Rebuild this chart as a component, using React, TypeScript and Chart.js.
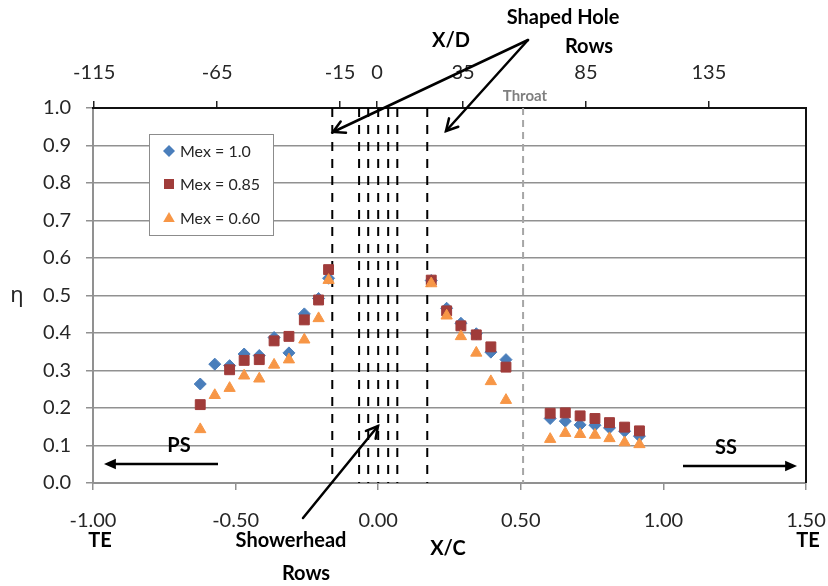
import React, { useEffect, useRef } from "react";
import { Chart, registerables } from "chart.js";

Chart.register(...registerables);

// Measurement stations along the airfoil surface (X/C), shared by all three series
const xcLocations = [
  -0.624, -0.573, -0.521, -0.47, -0.417, -0.365, -0.313, -0.259, -0.209, -0.174,
  0.186, 0.24, 0.29, 0.344, 0.395, 0.448,
  0.603, 0.656, 0.708, 0.76, 0.811, 0.864, 0.916,
];

// Film cooling effectiveness η per exit Mach number (null = no reading)
const etaMex100 = [
  0.264, 0.317, 0.313, 0.344, 0.34, 0.388, 0.347, 0.451, 0.492, 0.546,
  0.54, 0.466, 0.426, 0.398, 0.349, 0.329,
  0.172, 0.165, 0.155, 0.154, 0.147, 0.138, 0.125,
];
const etaMex085 = [
  0.209, null, 0.302, 0.327, 0.329, 0.379, 0.391, 0.435, 0.488, 0.569,
  0.541, 0.459, 0.419, 0.395, 0.363, 0.309,
  0.186, 0.187, 0.179, 0.172, 0.161, 0.149, 0.139,
];
const etaMex060 = [
  0.143, 0.234, 0.253, 0.286, 0.278, 0.315, 0.329, 0.382, 0.439, 0.541,
  0.532, 0.446, 0.391, 0.347, 0.271, 0.221,
  0.117, 0.133, 0.13, 0.128, 0.119, 0.108, 0.103,
];

const seriesLabels = ["Mex = 1.0", "Mex = 0.85", "Mex = 0.60"];

// Cooling hole row locations (X/C)
const showerheadRows = [-0.067, -0.035, 0, 0.035, 0.067];
const shapedHoleRows = [-0.161, 0.172];
const throatLocation = [0.508];

// Axis ticks
const xcTicks = [-1, -0.5, 0, 0.5, 1, 1.5];
const xdTicks = [-115, -65, -15, 0, 35, 85, 135];
const etaTicks = [0, 0.1, 0.2, 0.3, 0.4, 0.5, 0.6, 0.7, 0.8, 0.9, 1.0];

const BLUE = "#4a7ebb";
const RED = "#a03c3a";
const ORANGE = "#f79646";
const GRID = "#919191";
const TEXT = "#262626";

const toPoints = (ys: (number | null)[]) =>
  xcLocations
    .map((x, i) => ({ x, y: ys[i] }))
    .filter((p) => p.y !== null) as { x: number; y: number }[];

const verticalLine = (x: number) => [
  { x, y: 1 },
  { x, y: 0 },
];

function drawArrow(
  ctx: CanvasRenderingContext2D,
  x1: number,
  y1: number,
  x2: number,
  y2: number,
  solid: boolean,
  size: number
) {
  const ang = Math.atan2(y2 - y1, x2 - x1);
  const spread = solid ? 0.42 : 0.5;
  const ex = solid ? x2 - Math.cos(ang) * size * 0.8 : x2;
  const ey = solid ? y2 - Math.sin(ang) * size * 0.8 : y2;
  ctx.beginPath();
  ctx.moveTo(x1, y1);
  ctx.lineTo(ex, ey);
  ctx.stroke();
  const ax = x2 - size * Math.cos(ang - spread);
  const ay = y2 - size * Math.sin(ang - spread);
  const bx = x2 - size * Math.cos(ang + spread);
  const by = y2 - size * Math.sin(ang + spread);
  ctx.beginPath();
  ctx.moveTo(ax, ay);
  ctx.lineTo(x2, y2);
  ctx.lineTo(bx, by);
  if (solid) {
    ctx.closePath();
    ctx.fill();
  } else {
    ctx.stroke();
  }
}

function drawMarker(ctx: CanvasRenderingContext2D, kind: number, x: number, y: number) {
  ctx.beginPath();
  if (kind === 0) {
    ctx.fillStyle = BLUE;
    ctx.moveTo(x, y - 6);
    ctx.lineTo(x + 6, y);
    ctx.lineTo(x, y + 6);
    ctx.lineTo(x - 6, y);
  } else if (kind === 1) {
    ctx.fillStyle = RED;
    ctx.rect(x - 5, y - 5, 10, 10);
  } else {
    ctx.fillStyle = ORANGE;
    ctx.moveTo(x, y - 6);
    ctx.lineTo(x + 5.8, y + 4);
    ctx.lineTo(x - 5.8, y + 4);
  }
  ctx.closePath();
  ctx.fill();
}

const overlayPlugin = {
  id: "overlay",
  beforeDatasetsDraw(chart: Chart) {
    const { ctx, chartArea: a } = chart;
    ctx.save();
    ctx.strokeStyle = "#111";
    ctx.lineWidth = 2;
    ctx.beginPath();
    ctx.moveTo(a.left - 1, a.top);
    ctx.lineTo(a.right, a.top);
    ctx.lineTo(a.right, a.bottom);
    ctx.stroke();
    ctx.restore();
  },
  afterDraw(chart: Chart) {
    const { ctx } = chart;
    ctx.save();

    // legend
    ctx.fillStyle = "#fff";
    ctx.fillRect(149, 134, 124, 101);
    ctx.strokeStyle = "#8c8c8c";
    ctx.lineWidth = 1;
    ctx.strokeRect(149.5, 134.5, 124, 101);
    const rowsY = [151, 184, 218];
    ctx.font = "16px Lato";
    ctx.textBaseline = "middle";
    ctx.textAlign = "left";
    seriesLabels.forEach((label, i) => {
      drawMarker(ctx, i, 169, rowsY[i]);
      ctx.fillStyle = TEXT;
      ctx.fillText(label, 180, rowsY[i] + 1);
    });

    // labels
    ctx.fillStyle = "#000";
    ctx.textAlign = "center";
    ctx.font = "bold 20px Lato";
    ctx.fillText("Shaped Hole", 563, 18);
    ctx.fillText("Rows", 589, 47);
    ctx.fillText("X/D", 451, 41);
    ctx.fillText("X/C", 448, 549);
    ctx.fillText("Showerhead", 291, 541);
    ctx.fillText("Rows", 306, 574);
    ctx.fillText("TE", 100, 541);
    ctx.fillText("TE", 808, 541);
    ctx.fillText("PS", 179, 446);
    ctx.fillText("SS", 726, 448);

    ctx.fillStyle = "#7f7f7f";
    ctx.font = "bold 15px Lato";
    ctx.fillText("Throat", 525, 96);

    ctx.fillStyle = TEXT;
    ctx.font = "22px 'Noto Sans'";
    ctx.fillText("η", 17, 296);

    // arrows
    ctx.strokeStyle = "#000";
    ctx.fillStyle = "#000";
    ctx.lineWidth = 2.5;
    ctx.lineCap = "round";
    drawArrow(ctx, 528, 40, 333, 132, false, 13);
    drawArrow(ctx, 528, 40, 446, 131, false, 13);
    drawArrow(ctx, 303, 518, 378, 426, false, 13);
    ctx.lineCap = "butt";
    drawArrow(ctx, 218, 464, 104, 464, true, 13);
    drawArrow(ctx, 683, 466, 797, 466, true, 13);

    ctx.restore();
  },
};

export default function App() {
  const canvasRef = useRef<HTMLCanvasElement | null>(null);

  useEffect(() => {
    if (!canvasRef.current) return;
    const markerSet = (color: string) => ({
      backgroundColor: color,
      borderColor: color,
      borderWidth: 1,
      showLine: false,
    });
    const dashed = (x: number, color: string, dash: number[], width: number) => ({
      type: "line" as const,
      data: verticalLine(x),
      borderColor: color,
      borderWidth: width,
      borderDash: dash,
      pointRadius: 0,
      fill: false,
      order: 10,
    });

    const chart = new Chart(canvasRef.current, {
      type: "scatter",
      data: {
        datasets: [
          {
            label: seriesLabels[0],
            data: toPoints(etaMex100),
            pointStyle: "rectRot",
            pointRadius: 6,
            order: 3,
            ...markerSet(BLUE),
          },
          {
            label: seriesLabels[1],
            data: toPoints(etaMex085),
            pointStyle: "rect",
            pointRadius: 7,
            order: 2,
            ...markerSet(RED),
          },
          {
            label: seriesLabels[2],
            data: toPoints(etaMex060),
            pointStyle: "triangle",
            pointRadius: 6.5,
            order: 1,
            ...markerSet(ORANGE),
          },
          ...showerheadRows.map((x) => dashed(x, "#000", [9, 8], 2)),
          ...shapedHoleRows.map((x) => dashed(x, "#000", [9, 8], 2)),
          ...throatLocation.map((x) => dashed(x, "#a6a6a6", [7, 5], 2)),
        ] as any,
      },
      options: {
        animation: false,
        responsive: false,
        events: [],
        layout: { padding: { left: 0, right: 22, top: 0, bottom: 0 } },
        plugins: {
          legend: { display: false },
          tooltip: { enabled: false },
        },
        scales: {
          x: {
            type: "linear",
            position: "bottom",
            min: -1,
            max: 1.5,
            afterBuildTicks: (s: any) => {
              s.ticks = xcTicks.map((v) => ({ value: v }));
            },
            afterFit: (s: any) => {
              s.height = 103;
              s.paddingLeft = 0;
              s.paddingRight = 0;
            },
            ticks: {
              callback: (v: any) => Number(v).toFixed(2),
              font: { family: "Lato", size: 20 },
              color: TEXT,
              padding: 19,
              maxRotation: 0,
              autoSkip: false,
            },
            grid: {
              drawOnChartArea: false,
              drawTicks: true,
              tickLength: 7,
              color: GRID,
              lineWidth: 1.5,
            },
            border: { display: true, color: GRID, width: 2 },
          },
          x2: {
            type: "linear",
            position: "top",
            min: -115.5,
            max: 174.5,
            afterBuildTicks: (s: any) => {
              s.ticks = xdTicks.map((v) => ({ value: v }));
            },
            afterFit: (s: any) => {
              s.height = 108;
              s.paddingLeft = 0;
              s.paddingRight = 0;
            },
            ticks: {
              callback: (v: any) => String(v),
              font: { family: "Lato", size: 20 },
              color: TEXT,
              padding: 16,
              maxRotation: 0,
              autoSkip: false,
            },
            grid: {
              drawOnChartArea: false,
              drawTicks: true,
              tickLength: 7,
              color: "#222",
              lineWidth: 1.5,
            },
            border: { display: false },
          },
          y: {
            type: "linear",
            position: "left",
            min: 0,
            max: 1,
            afterBuildTicks: (s: any) => {
              s.ticks = etaTicks.map((v) => ({ value: v }));
            },
            afterFit: (s: any) => {
              s.width = 93;
            },
            ticks: {
              callback: (v: any) => Number(v).toFixed(1),
              font: { family: "Lato", size: 20 },
              color: TEXT,
              padding: 15,
            },
            grid: {
              drawOnChartArea: true,
              drawTicks: true,
              tickLength: 7,
              color: GRID,
              lineWidth: 1.5,
            },
            border: { display: true, color: GRID, width: 2 },
          },
        },
      },
      plugins: [overlayPlugin],
    });
    return () => chart.destroy();
  }, []);

  return (
    <div style={{ position: "absolute", left: 0, top: 0, width: 828, height: 586, background: "#fff" }}>
      <canvas ref={canvasRef} width={828} height={586} style={{ display: "block" }} />
    </div>
  );
}
